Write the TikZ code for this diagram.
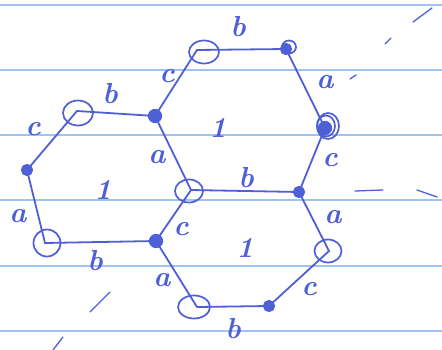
\documentclass[tikz,border=0pt]{standalone}
\usetikzlibrary{shapes.geometric}
\definecolor{ink}{HTML}{4F5FD6}
\definecolor{ruling}{HTML}{9FC3EE}
\begin{document}
\begin{tikzpicture}[x=1pt,y=-1pt,
  ring/.style={ellipse,draw=ink,line width=1.7pt,inner sep=0pt},
  dot/.style={circle,fill=ink,draw=ink,line width=1.2pt,minimum size=11pt,inner sep=0pt},
  edge/.style={draw=ink,line width=1.8pt,line cap=round},
  stray/.style={draw=ink,line width=1.3pt,line cap=round},
  lbl/.style={text=ink,font=\bfseries\itshape\fontsize{29}{29}\selectfont,inner sep=0pt}]
\useasboundingbox (0,0) rectangle (442,350);
\fill[white] (0,0) rectangle (442,350);
\foreach \y in {5,70,135,200,266,331} \draw[ruling,line width=2.8pt] (0,\y) -- (442,\y);

% vertices (line junctions)
\coordinate (v1) at (197,50);
\coordinate (v2) at (286,49);
\coordinate (v3) at (325,128);
\coordinate (v4) at (299,192);
\coordinate (v5) at (191,190);
\coordinate (v6) at (155,116);
\coordinate (l1) at (77,111);
\coordinate (l2) at (27,170);
\coordinate (l3) at (45,243);
\coordinate (l4) at (156,241);
\coordinate (r1) at (329,251);
\coordinate (r2) at (269,306);
\coordinate (r3) at (197,307);

% edges: top hexagon
\draw[edge] (v6) -- (v1) -- (v2) -- (v3) -- (v4) -- (v5) -- (v6);
% left hexagon
\draw[edge] (v6) -- (l1) -- (l2) -- (l3) -- (l4) -- (v5);
% bottom hexagon
\draw[edge] (v4) -- (r1) -- (r2) -- (r3) -- (l4);

% open circles
\node[ring,minimum width=30pt,minimum height=23pt] (c1) at (204,52) {};
\node[ring,minimum width=30pt,minimum height=25pt] (cl1) at (78,113) {};
\node[ring,minimum width=27pt,minimum height=27pt] (cl3) at (47,243) {};
\node[ring,minimum width=28pt,minimum height=23pt] (c5) at (189,191) {};
\node[ring,minimum width=27pt,minimum height=23pt] (cr1) at (328,251) {};
\node[ring,minimum width=32pt,minimum height=23pt] (cr3) at (194,307) {};

% filled dots
\node[dot] (d2) at (v2) {};
\node[ring,minimum width=14pt,minimum height=13pt] (d2r) at (289,47) {};
\node[dot,minimum size=13pt] (d3) at (v3) {};
\node[ring,minimum width=18pt,minimum height=21pt] (d3r) at (326,126) {};
\node[ring,minimum width=22pt,minimum height=26pt] (d3s) at (328,126) {};
\node[dot] (d4) at (v4) {};
\node[dot,minimum size=13pt] (d6) at (v6) {};
\node[dot] (dl2) at (l2) {};
\node[dot,minimum size=13pt] (dl4) at (l4) {};
\node[dot] (dr2) at (r2) {};

% labels
\node[lbl] (t1) at (238,27) {b};
\node[lbl] (t2) at (167,76) {c};
\node[lbl] (t3) at (325,82) {a};
\node[lbl] (t4) at (330,160) {c};
\node[lbl] (t5) at (157,157) {a};
\node[lbl] (t6) at (218,128) {1};
\node[lbl] (t7) at (33,129) {c};
\node[lbl] (t8) at (110,94) {b};
\node[lbl] (t9) at (103,190) {1};
\node[lbl] (t10) at (18,216) {a};
\node[lbl] (t11) at (95,261) {b};
\node[lbl] (t12) at (246,178) {b};
\node[lbl] (t13) at (181,229) {c};
\node[lbl] (t14) at (333,217) {a};
\node[lbl] (t15) at (245,248) {1};
\node[lbl] (t16) at (162,280) {a};
\node[lbl] (t17) at (309,289) {c};
\node[lbl] (t18) at (233,329) {b};

% stray marks
\draw[stray] (413,22) -- (432,8);
\draw[stray] (385,44) -- (391,38);
\draw[stray] (350,79) -- (356,75);
\draw[stray] (355,191) -- (383,190);
\draw[stray] (417,190) -- (437,197);
\draw[stray] (90,312) -- (110,292);
\draw[stray] (53,350) -- (63,337);
\end{tikzpicture}
\end{document}
